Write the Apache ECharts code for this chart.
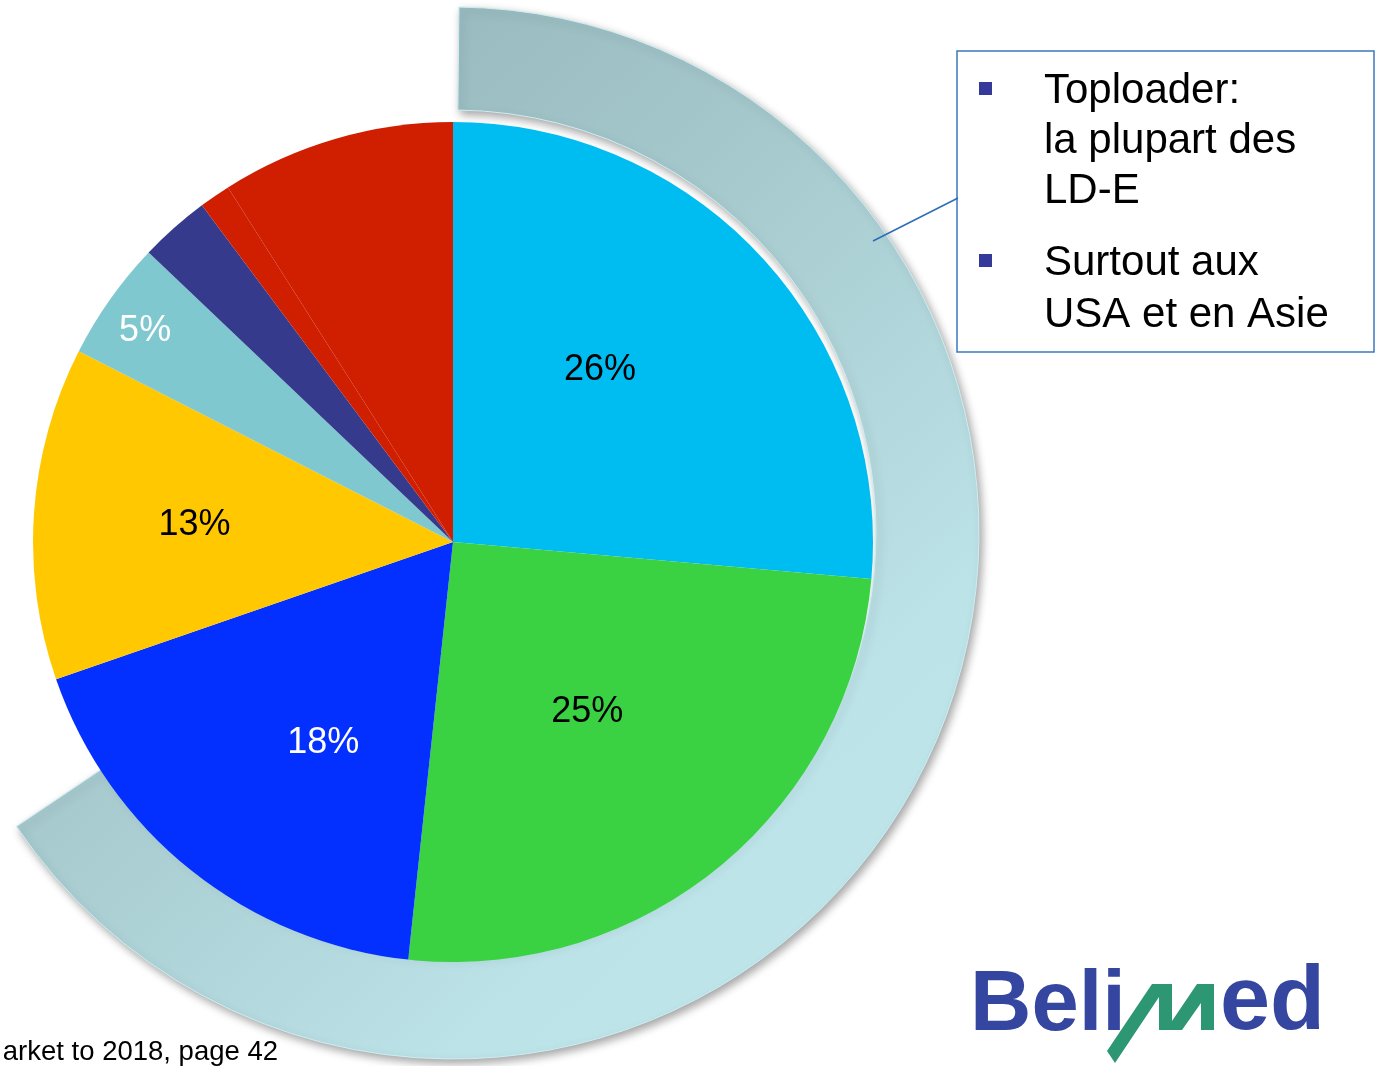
<!DOCTYPE html>
<html>
<head>
<meta charset="utf-8">
<script src="https://cdn.jsdelivr.net/npm/echarts/dist/echarts.min.js"></script>
<style>
  html, body { margin: 0; padding: 0; background: #fff; }
  #chart { width: 1376px; height: 1066px; }
</style>
</head>
<body>
<div id="chart"></div>
<script>
// 饼图数据（从顶部起顺时针）
const categories = ['Segment A', 'Segment B', 'Segment C', 'Segment D', 'Segment E', 'Segment F', 'Segment G', 'Segment H'];
const shares = [26.4, 25.3, 18.0, 12.8, 4.6, 2.7, 1.2, 9.0];
const labelled = [true, true, true, true, true, false, false, false];

// 外圈弧（Toploader 部分）占比
const ringShare = [65.4, 34.6];

// 说明框文字
const noteBlocks = [
    ['Toploader:', 'la plupart des', 'LD-E'],
    ['Surtout aux', 'USA et en Asie']
];
const footerText = 'arket to 2018, page 42';

// 样式
const sliceColors = ['#00bdf1', '#3ad142', '#0430ff', '#ffc800', '#80c8cf', '#363a8c', '#cf1e00', '#cf1e00'];
const labelColors = ['#000', '#000', '#fff', '#000', '#fff'];
const labelOffsets = [[-10, -28], [-1, 6], [3, 34], [-46, -2], [-134, -88]];

const FONT = '"Liberation Sans", Arial, sans-serif';

let pieData = shares.map((v, i) => ({
    name: categories[i],
    value: v,
    itemStyle: { color: sliceColors[i] },
    label: labelled[i] ? {
        show: true,
        color: labelColors[i],
        offset: labelOffsets[i]
    } : { show: false }
}));

let ringData = [
    {
        name: 'ring',
        value: ringShare[0],
        itemStyle: {
            color: {
                type: 'linear', x: 0, y: 0, x2: 1, y2: 1,
                colorStops: [
                    { offset: 0, color: '#8fb0b4' },
                    { offset: 0.4, color: '#a4c7cb' },
                    { offset: 0.75, color: '#bce3e8' },
                    { offset: 1, color: '#c1e7ec' }
                ]
            },
            borderColor: '#cdeef2',
            borderWidth: 1,
            shadowBlur: 8,
            shadowOffsetX: 3,
            shadowOffsetY: 4,
            shadowColor: 'rgba(0,0,0,0.35)'
        }
    },
    {
        name: 'gap',
        value: ringShare[1],
        itemStyle: { color: 'rgba(0,0,0,0)' }
    }
];

// 说明框里的文字和小方块
let noteGraphics = [];
let lineY = [[91, 141, 191], [263, 315]];
noteBlocks.forEach((block, b) => {
    noteGraphics.push({
        type: 'rect',
        z: 100,
        shape: { x: 979, y: lineY[b][0] - 9, width: 13, height: 13 },
        style: { fill: '#35399a' }
    });
    block.forEach((txt, k) => {
        noteGraphics.push({
            type: 'text',
            z: 100,
            x: 1044,
            y: lineY[b][k],
            style: {
                text: txt,
                font: '42px ' + FONT,
                fill: '#000',
                verticalAlign: 'middle'
            }
        });
    });
});

let option = {
    backgroundColor: '#fff',
    animation: false,
    series: [
        {
            // 外圈弧
            type: 'pie',
            z: 1,
            silent: true,
            center: [453, 533],
            radius: [423, 526],
            startAngle: 89.35,
            clockwise: true,
            label: { show: false },
            labelLine: { show: false },
            emphasis: { disabled: true },
            data: ringData
        },
        {
            type: 'pie',
            z: 2,
            center: [453, 542],
            radius: [0, 420],
            startAngle: 90,
            clockwise: true,
            avoidLabelOverlap: false,
            emphasis: { disabled: true },
            itemStyle: { borderWidth: 0 },
            label: {
                position: 'inside',
                fontFamily: FONT,
                fontSize: 36,
                formatter: p => Math.round(p.percent) + '%'
            },
            labelLine: { show: false },
            data: pieData
        }
    ],
    graphic: [
        {
            type: 'line',
            z: 100,
            shape: { x1: 873, y1: 241, x2: 958, y2: 198 },
            style: { stroke: '#2d6db5', lineWidth: 1.5 }
        },
        {
            type: 'rect',
            z: 99,
            shape: { x: 957, y: 51, width: 417, height: 301 },
            style: { fill: '#fff', stroke: '#3b78bf', lineWidth: 1.5 }
        },
        ...noteGraphics,
        // Belimed 标志
        {
            type: 'text',
            z: 100,
            x: 970,
            y: 1049,
            style: {
                text: 'Beli',
                font: 'bold 85px ' + FONT,
                fill: '#3446a0',
                verticalAlign: 'bottom'
            }
        },
        {
            type: 'polygon',
            z: 100,
            shape: {
                points: [
                    [1107, 1051], [1152, 984], [1172, 984], [1172, 1021], [1197, 984],
                    [1214, 984], [1214, 1030], [1201, 1030], [1201, 1003], [1182, 1030],
                    [1159, 1030], [1159, 997], [1115, 1063]
                ]
            },
            style: { fill: '#2d9673' }
        },
        {
            type: 'text',
            z: 100,
            x: 1220,
            y: 1049,
            style: {
                text: 'ed',
                font: 'bold 90px ' + FONT,
                fill: '#3446a0',
                verticalAlign: 'bottom'
            }
        },
        {
            type: 'text',
            z: 100,
            x: 278,
            y: 1052,
            style: {
                text: footerText,
                font: '27.5px ' + FONT,
                fill: '#000',
                align: 'right',
                verticalAlign: 'middle'
            }
        }
    ]
};

let myChart = echarts.init(document.getElementById('chart'));
myChart.setOption(option);
</script>
</body>
</html>
